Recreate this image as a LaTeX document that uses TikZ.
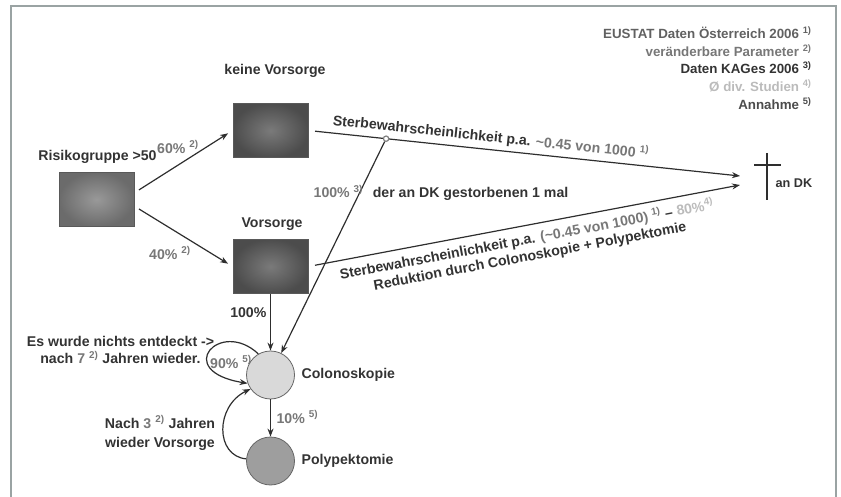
\documentclass[tikz,border=0pt]{standalone}
\usepackage{fontspec}
\setmainfont{Liberation Sans}
\usepackage{tikz}
\usetikzlibrary{arrows.meta,calc,positioning}
\definecolor{txtdark}{HTML}{333333}
\definecolor{txtgray}{HTML}{777777}
\definecolor{txtlight}{HTML}{BBBBBB}
\definecolor{linedark}{HTML}{2E2E2E}
\definecolor{framegray}{HTML}{9AA3A3}
\newcommand{\fnote}[1]{\textsuperscript{#1)}}
\newcommand{\gr}[1]{\textcolor{txtgray}{#1}}

\begin{document}
\begin{tikzpicture}[x=0.75pt,y=0.75pt,
  font=\fontsize{10.6}{12.5}\selectfont\bfseries, text=txtdark,
  lbl/.style={inner sep=1pt},
  box/.style={draw=black!65,line width=0.6pt,minimum width=56.25pt,minimum height=41pt,inner sep=0pt,shading=radial,inner color=black!52,outer color=black!70},
  stage/.style={circle,draw=black!60,line width=0.6pt,minimum size=36pt,inner sep=0pt},
  arr/.style={-{Stealth[length=6pt,width=4.5pt]},draw=linedark,line width=0.9pt},
  legend/.style={anchor=east,inner sep=0pt,font=\fontsize{10}{12}\selectfont\bfseries}]
\useasboundingbox (0,0) rectangle (841,496);
\draw[framegray,line width=1.1pt] (11,-5) |- (836,490) -- (836,-5);

\node[box,inner color=black!40,outer color=black!58] (R) at (96.5,296.5) {};
\node[lbl] (Rl) at (97.5,339) {Risikogruppe >50};
\node[box] (K) at (270.5,365.5) {};
\node[lbl] (Kl) at (275,425) {keine Vorsorge};
\node[box] (V) at (270.5,229.5) {};
\node[lbl] (Vl) at (272,272) {Vorsorge};
\node[stage,fill=black!15] (C) at (270.5,121) {};
\node[lbl,anchor=west] (Cl) at (300,121) {Colonoskopie};
\node[stage,fill=black!38] (P) at (270.5,35) {};
\node[lbl,anchor=west] (Pl) at (300,35) {Polypektomie};

\draw[linedark,line width=1.3pt] (767,343) -- (767,296) (754,331) -- (781,331);
\node[lbl,anchor=west,font=\fontsize{9.5}{11}\selectfont\bfseries] (T) at (774,313) {an DK};
\coordinate (D1) at (740,320);
\coordinate (D2) at (740,311);

\draw[arr,shorten <=4pt,shorten >=4pt] (R.10) -- (K.west);
\draw[arr,shorten <=4pt,shorten >=4pt] (R.-10) -- (V.west);
\node[lbl,text=txtgray] (p60) at (178,349) {60\% \fnote{2}};
\node[lbl,text=txtgray] (p40) at (170,243) {40\% \fnote{2}};

\draw[arr,shorten <=5pt] (K.east) -- node[pos=0.18,circle,draw=black!50,fill=white,inner sep=0pt,minimum size=4pt] (J) {}
  node[pos=0.42,above,sloped] {Sterbewahrscheinlichkeit p.a. \gr{\textasciitilde0.45 von 1000 \fnote{1}}} (D1);
\draw[arr,shorten <=5pt] (V.east) -- node[pos=0.5,below=1pt,sloped,align=center] {Sterbewahrscheinlichkeit p.a. \gr{(\textasciitilde0.45 von 1000) \fnote{1}} -- \textcolor{txtlight}{80\%\fnote{4}}\\Reduktion durch Colonoskopie + Polypektomie} (D2);

\draw[arr] (J) -- (C);
\node[lbl] (M) at (441,303) {\gr{100\% \fnote{3}}\hspace{0.4em} der an DK gestorbenen 1 mal};

\draw[arr] (V) -- (C);
\node[lbl,anchor=east] (h100) at (268,183) {100\%};
\draw[arr] (C) -- (P);
\node[lbl,text=txtgray,anchor=west] (p10) at (275,79) {10\% \fnote{5}};

\draw[arr] (C.120) .. controls (220,178) and (172,125) .. (C.200);
\node[lbl,text=txtgray] (p90) at (231,134) {90\% \fnote{5}};
\node[lbl,align=center] (nix) at (120.5,146) {Es wurde nichts entdeckt ->\\nach \gr{7 \fnote{2}} Jahren wieder.};

\draw[arr] (P.175) .. controls (215,40) and (215,90) .. (C.215);
\node[lbl,align=center] (back) at (160,63) {Nach \gr{3 \fnote{2}} Jahren\\[2pt]wieder Vorsorge};

\node[legend,text=black!62] (L1) at (812,463) {EUSTAT Daten Österreich 2006 \fnote{1}};
\node[legend,text=txtgray] (L2) at (812,445) {veränderbare Parameter \fnote{2}};
\node[legend,text=txtdark] (L3) at (812,428) {Daten KAGes 2006 \fnote{3}};
\node[legend,text=txtlight] (L4) at (812,410) {Ø div. Studien \fnote{4}};
\node[legend,text=black!70] (L5) at (812,392) {Annahme \fnote{5}};
\end{tikzpicture}
\end{document}
